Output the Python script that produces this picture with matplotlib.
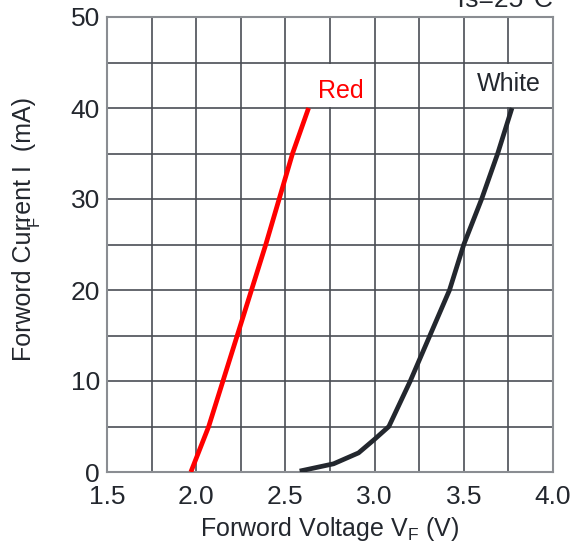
import matplotlib
matplotlib.use("Agg")
import matplotlib.pyplot as plt
from matplotlib.patches import Rectangle

plt.rcParams['font.family'] = ['Liberation Sans', 'DejaVu Sans']
plt.rcParams['mathtext.fontset'] = 'custom'
plt.rcParams['mathtext.rm'] = 'Liberation Sans'

# Data
red_v = [1.97, 2.07, 2.23, 2.39, 2.54, 2.63]
red_i = [0, 5, 15, 25, 35, 40]
white_v = [2.58, 2.77, 2.91, 3.00, 3.08, 3.20, 3.31, 3.42, 3.50, 3.60, 3.69, 3.77]
white_i = [0.1, 0.9, 2.1, 3.6, 5.0, 10.0, 15.0, 20.0, 25.0, 30.0, 35.0, 40.0]
x_ticks = [1.5, 2.0, 2.5, 3.0, 3.5, 4.0]
x_ticklabels = ['1.5', '2.0', '2.5', '3.0', '3.5', '4.0']
y_ticks = [0, 10, 20, 30, 40, 50]
y_ticklabels = ['0', '10', '20', '30', '40', '50']

fig = plt.figure(figsize=(5.74, 5.49), dpi=100)
ax = fig.add_axes([107/574, 1-472/549, (553-107)/574, (472-17)/549])

ax.set_xlim(1.5, 4.0)
ax.set_ylim(0, 50)

# grid every 0.25 V and 5 mA
for xv in [1.75, 2.0, 2.25, 2.5, 2.75, 3.0, 3.25, 3.5, 3.75]:
    ax.axvline(xv, color='#4a4e55', lw=1.2, zorder=1)
for yv in [5, 10, 15, 20, 25, 30, 35, 40, 45]:
    ax.axhline(yv, color='#4a4e55', lw=1.2, zorder=1)

# label boxes
ax.add_patch(Rectangle((2.505, 40.15), 0.485, 4.7, facecolor='white', edgecolor='none', zorder=2))
ax.add_patch(Rectangle((3.505, 40.15), 0.49, 4.7, facecolor='white', edgecolor='none', zorder=2))

ax.plot(red_v, red_i, color='#ff0000', lw=3.4, solid_capstyle='butt', zorder=3)
ax.plot(white_v, white_i, color='#23272e', lw=3.4, solid_capstyle='butt', zorder=3)

ax.text(2.81, 41.9, 'Red', color='#ff0000', fontsize=18, ha='center', va='center', zorder=4)
ax.text(3.75, 42.6, 'White', color='#23272e', fontsize=18, ha='center', va='center', zorder=4)

for s in ax.spines.values():
    s.set_color('#8a8d92')
    s.set_linewidth(1.5)

ax.set_xticks(x_ticks)
ax.set_xticklabels(x_ticklabels)
ax.set_yticks(y_ticks)
ax.set_yticklabels(y_ticklabels)
ax.tick_params(length=0, labelsize=19, colors='#23272e')
ax.tick_params(axis='x', pad=9)
ax.tick_params(axis='y', pad=5)

ax.set_xlabel('Forword Voltage V$_\\mathregular{F}$ (V)', fontsize=18, color='#23272e', labelpad=5)
ax.set_ylabel('Forword Current I  (mA)', fontsize=18, color='#23272e')
ax.yaxis.set_label_coords((36 - 107) / 446, 0.535)
fig.text(34/574, 1-221/549, 'F', fontsize=12, rotation=90, color='#23272e', ha='center', va='center')

fig.text(553/574, 1-7/549, 'Ts=25°C', fontsize=19, color='#23272e', ha='right', va='baseline')

fig.savefig('out.png', dpi=100)
